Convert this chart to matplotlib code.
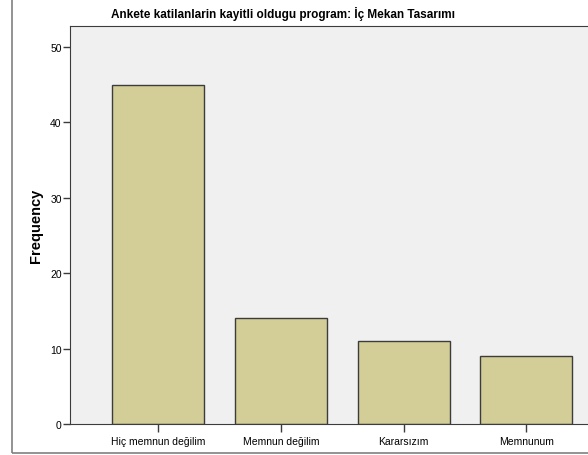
import matplotlib
matplotlib.use("Agg")
import matplotlib.pyplot as plt
from matplotlib.patches import Rectangle

categories = ["Hiç memnun değilim", "Memnun değilim", "Kararsızım", "Memnunum"]
counts = [45, 14, 11, 9]
y_ticks = [0, 10, 20, 30, 40, 50]

plt.rcParams["font.family"] = ["Liberation Sans", "DejaVu Sans"]

W, H = 588, 456
fig = plt.figure(figsize=(W / 100, H / 100), dpi=100)

# outer chart frame
fig.patches.append(Rectangle((12 / W, 2 / H), 1.0, 1.0,
                             transform=fig.transFigure, fill=False,
                             edgecolor="#808080", lw=1.2))

ax = fig.add_axes([70 / W, (H - 425) / H, (W - 70) / W + 0.01, (425 - 27) / H])
ax.set_facecolor("#F0F0F0")
x = list(range(len(categories)))
ax.bar(x, counts, width=0.75, color="#D3CE97", edgecolor="#3C3C3C", linewidth=1.0, zorder=2)

ax.set_xlim(-0.72, 3.55)
ax.set_ylim(0, 52.8)
ax.set_yticks(y_ticks)
ax.set_xticks(x)
ax.set_xticklabels(categories, fontsize=7.5)
ax.tick_params(axis="y", labelsize=7.5, length=5, width=1, color="#3C3C3C", pad=1)
ax.tick_params(axis="x", length=6, width=1, color="#3C3C3C", pad=3)
for s in ["left", "bottom", "top"]:
    ax.spines[s].set_color("#3C3C3C")
ax.spines["right"].set_visible(False)

ax.set_ylabel("Frequency", fontsize=10.5, fontweight="bold", labelpad=5)
fig.text(283 / W, 1 - 14 / H,
         "Ankete katilanlarin kayitli oldugu program: İç Mekan Tasarımı",
         ha="center", va="center", fontsize=8.5, fontweight="bold")

fig.savefig("out.png", dpi=100)
